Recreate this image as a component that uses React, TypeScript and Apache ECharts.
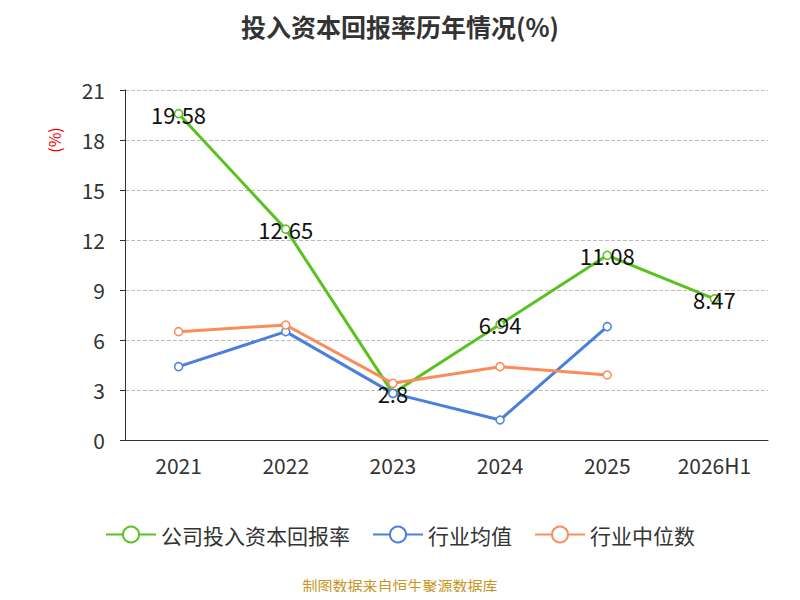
import React, { useEffect, useRef } from "react";
import * as echarts from "echarts";

const categories = ["2021", "2022", "2023", "2024", "2025", "2026H1"];
const companyValues = [19.58, 12.65, 2.8, 6.94, 11.08, 8.47];
const industryAvg = [4.4, 6.5, 2.8, 1.2, 6.8, null];
const industryMedian = [6.5, 6.9, 3.4, 4.4, 3.9, null];

export default function App() {
  const ref = useRef<HTMLDivElement>(null);
  useEffect(() => {
    const chart = echarts.init(ref.current!, null, { renderer: "svg" });
    const ff = "'Noto Sans CJK SC', 'Noto Sans', sans-serif";
    chart.setOption({
      animation: false,
      textStyle: { fontFamily: ff },
      title: {
        text: "投入资本回报率历年情况(%)",
        left: "center",
        top: 0,
        textStyle: { fontSize: 25, fontWeight: "bold", color: "#333", fontFamily: ff },
      },
      graphic: [
        {
          type: "text",
          left: "center",
          top: 570,
          style: { text: "制图数据来自恒生聚源数据库", fill: "#c8961e", fontSize: 15, fontFamily: ff },
        },
        {
          type: "text",
          x: 46,
          y: 132,
          rotation: Math.PI / 2,
          style: { text: "(%)", fill: "#e00", fontSize: 16, fontFamily: ff, align: "center", verticalAlign: "middle" },
        },
      ],
      legend: {
        bottom: 42,
        itemWidth: 50,
        itemHeight: 20,
        itemGap: 22,
        textStyle: { fontSize: 21, color: "#333" },
        data: ["公司投入资本回报率", "行业均值", "行业中位数"],
      },
      grid: { left: 117, right: 24, top: 82, bottom: 152 },
      xAxis: {
        type: "category",
        data: categories,
        boundaryGap: true,
        axisLine: { lineStyle: { color: "#333" } },
        axisTick: { lineStyle: { color: "#333" } },
        axisLabel: { fontSize: 21, color: "#333", margin: 14 },
      },
      yAxis: {
        type: "value",
        min: 0,
        max: 21,
        interval: 3,
        axisLine: { show: true, lineStyle: { color: "#333" } },
        axisTick: { show: true, lineStyle: { color: "#333" } },
        axisLabel: { fontSize: 21, color: "#333", margin: 20 },
        splitLine: { lineStyle: { type: "dashed", color: "#bbb" } },
      },
      series: [
        {
          name: "公司投入资本回报率",
          type: "line",
          data: companyValues,
          color: "#5ac21e",
          symbol: "circle",
          symbolSize: 8,
          itemStyle: { color: "#fff", borderColor: "#5ac21e", borderWidth: 1.5 },
          lineStyle: { width: 3, color: "#5ac21e" },
          label: { show: true, position: "inside", fontSize: 22, color: "#111" },
          z: 3,
        },
        {
          name: "行业均值",
          type: "line",
          data: industryAvg,
          color: "#4a7fdc",
          symbol: "circle",
          symbolSize: 8,
          itemStyle: { color: "#fff", borderColor: "#4a7fdc", borderWidth: 1.5 },
          lineStyle: { width: 3, color: "#4a7fdc" },
        },
        {
          name: "行业中位数",
          type: "line",
          data: industryMedian,
          color: "#fa8c5a",
          symbol: "circle",
          symbolSize: 8,
          itemStyle: { color: "#fff", borderColor: "#fa8c5a", borderWidth: 1.5 },
          lineStyle: { width: 3, color: "#fa8c5a" },
        },
      ],
    });
    return () => chart.dispose();
  }, []);
  return <div ref={ref} style={{ width: 784, height: 584 }} />;
}
